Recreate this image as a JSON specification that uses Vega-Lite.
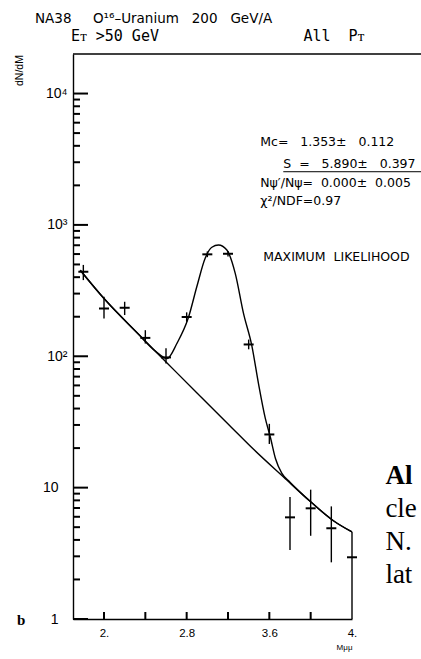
{
  "$schema": "https://vega.github.io/schema/vega-lite/v6.json",
  "width": 279,
  "height": 565,
  "autosize": {"type": "none"},
  "padding": {"left": 73, "top": 54, "right": 69, "bottom": 40},
  "background": "white",
  "config": {"view": {"stroke": null}, "font": "Liberation Sans"},
  "title": {
    "text": "NA38\u00a0\u00a0\u00a0\u00a0\u00a0O¹⁶–Uranium\u00a0\u00a0\u00a0200\u00a0\u00a0\u00a0GeV/A",
    "subtitle": "\u200b\u00a0\u00a0\u00a0\u00a0Eᴛ\u00a0>50\u00a0GeV\u00a0\u00a0\u00a0\u00a0\u00a0\u00a0\u00a0\u00a0\u00a0\u00a0\u00a0\u00a0\u00a0\u00a0\u00a0\u00a0All\u00a0\u00a0Pᴛ",
    "anchor": "start",
    "frame": "group",
    "dx": -38,
    "offset": 9,
    "font": "DejaVu Sans",
    "fontSize": 13.5,
    "fontWeight": "normal",
    "color": "black",
    "subtitleFont": "DejaVu Sans Mono",
    "subtitleFontSize": 15,
    "subtitleColor": "black",
    "subtitlePadding": 4
  },
  "datasets": {
    "points": [
      {"m": 1.8, "n": 440, "lo": 380, "hi": 496},
      {"m": 2.0, "n": 231, "lo": 194, "hi": 284},
      {"m": 2.2, "n": 234, "lo": 206, "hi": 260},
      {"m": 2.4, "n": 138, "lo": 125, "hi": 158},
      {"m": 2.6, "n": 98, "lo": 88, "hi": 115},
      {"m": 2.8, "n": 199, "lo": 183, "hi": 216},
      {"m": 3.0, "n": 597, "lo": 568, "hi": 628},
      {"m": 3.2, "n": 603, "lo": 574, "hi": 634},
      {"m": 3.4, "n": 123, "lo": 113, "hi": 134},
      {"m": 3.6, "n": 25.4, "lo": 21.5, "hi": 30.6},
      {"m": 3.8, "n": 5.94, "lo": 3.35, "hi": 8.5},
      {"m": 4.0, "n": 6.96, "lo": 4.3, "hi": 9.65},
      {"m": 4.2, "n": 4.9, "lo": 2.7, "hi": 7.2},
      {"m": 4.4, "n": 2.95, "lo": 1.0, "hi": 4.6}
    ],
    "background": [
      {"m": 1.77, "n": 452},
      {"m": 2.0, "n": 275},
      {"m": 2.32, "n": 151},
      {"m": 2.61, "n": 89},
      {"m": 2.9, "n": 52.5},
      {"m": 3.22, "n": 29.5},
      {"m": 3.45, "n": 19.5},
      {"m": 3.74, "n": 12.0},
      {"m": 4.0, "n": 7.8},
      {"m": 4.22, "n": 5.6},
      {"m": 4.4, "n": 4.6}
    ],
    "total": [
      {"m": 1.77, "n": 452},
      {"m": 2.0, "n": 275},
      {"m": 2.32, "n": 151},
      {"m": 2.5, "n": 109},
      {"m": 2.61, "n": 96},
      {"m": 2.705, "n": 125},
      {"m": 2.817, "n": 197},
      {"m": 2.898, "n": 338},
      {"m": 2.979, "n": 557},
      {"m": 3.044, "n": 676},
      {"m": 3.108, "n": 703},
      {"m": 3.189, "n": 644},
      {"m": 3.27, "n": 428},
      {"m": 3.35, "n": 212},
      {"m": 3.43, "n": 121},
      {"m": 3.495, "n": 62},
      {"m": 3.56, "n": 34},
      {"m": 3.61, "n": 24.2},
      {"m": 3.66, "n": 16.6},
      {"m": 3.72, "n": 12.9},
      {"m": 3.8, "n": 11.0},
      {"m": 4.0, "n": 7.8},
      {"m": 4.22, "n": 5.6},
      {"m": 4.4, "n": 4.6}
    ],
    "yMajor": [
      {"m": 1.7, "n": 1}, {"m": 1.7, "n": 10}, {"m": 1.7, "n": 100}, {"m": 1.7, "n": 1000}, {"m": 1.7, "n": 10000}
    ],
    "yMinor": [
      {"m": 1.7, "n": 2}, {"m": 1.7, "n": 3}, {"m": 1.7, "n": 4}, {"m": 1.7, "n": 5}, {"m": 1.7, "n": 6}, {"m": 1.7, "n": 7}, {"m": 1.7, "n": 8}, {"m": 1.7, "n": 9},
      {"m": 1.7, "n": 20}, {"m": 1.7, "n": 30}, {"m": 1.7, "n": 40}, {"m": 1.7, "n": 50}, {"m": 1.7, "n": 60}, {"m": 1.7, "n": 70}, {"m": 1.7, "n": 80}, {"m": 1.7, "n": 90},
      {"m": 1.7, "n": 200}, {"m": 1.7, "n": 300}, {"m": 1.7, "n": 400}, {"m": 1.7, "n": 500}, {"m": 1.7, "n": 600}, {"m": 1.7, "n": 700}, {"m": 1.7, "n": 800}, {"m": 1.7, "n": 900},
      {"m": 1.7, "n": 2000}, {"m": 1.7, "n": 3000}, {"m": 1.7, "n": 4000}, {"m": 1.7, "n": 5000}, {"m": 1.7, "n": 6000}, {"m": 1.7, "n": 7000}, {"m": 1.7, "n": 8000}, {"m": 1.7, "n": 9000}
    ],
    "xTicks": [
      {"m": 2.0, "n": 1}, {"m": 2.4, "n": 1}, {"m": 2.8, "n": 1}, {"m": 3.2, "n": 1}, {"m": 3.6, "n": 1}, {"m": 4.0, "n": 1}
    ],
    "notes": [
      {"label": "Mc=\u00a0\u00a0\u00a01.353±\u00a0\u00a0\u00a00.112", "m": 3.512, "n": 4305},
      {"label": "S\u00a0\u00a0=\u00a0\u00a0\u00a05.890±\u00a0\u00a0\u00a00.397", "m": 3.735, "n": 2924},
      {"label": "Nψ′/Nψ=\u00a0\u00a00.000±\u00a0\u00a00.005", "m": 3.512, "n": 2094},
      {"label": "χ²/NDF=0.97", "m": 3.512, "n": 1524},
      {"label": "MAXIMUM\u00a0\u00a0LIKELIHOOD", "m": 3.541, "n": 570}
    ],
    "underline": [
      {"m": 3.735, "m2": 5.07, "n": 2540}
    ],
    "frame": [
      {"m": 1.7, "m2": 5.07, "n": 20000}
    ],
    "paper": [
      {"label": "cle", "m": 4.723, "n": 5.97},
      {"label": "N.", "m": 4.723, "n": 3.34},
      {"label": "lat", "m": 4.723, "n": 1.87}
    ],
    "paperBold": [
      {"label": "Al", "m": 4.723, "n": 10.67}
    ],
    "panel": [
      {"label": "b", "m": 1.157, "n": 0.9}
    ]
  },
  "layer": [
    {
      "data": {"name": "background"},
      "mark": {"type": "line", "color": "black", "strokeWidth": 1.4, "interpolate": "monotone"},
      "encoding": {
        "x": {
          "field": "m", "type": "quantitative",
          "scale": {"domain": [1.7, 4.4], "nice": false, "zero": false},
          "axis": {
            "orient": "bottom",
            "values": [2.0, 2.8, 3.6, 4.4],
            "labelExpr": "datum.value == 2 ? '2.' : abs(datum.value - 2.8) < 0.001 ? '2.8' : abs(datum.value - 3.6) < 0.001 ? '3.6' : '4.'",
            "ticks": false,
            "tickSize": 0,
            "labelPadding": 8,
            "labelFontSize": 11.5,
            "labelColor": "black",
            "labelFlush": false,
            "domainColor": "black",
            "domainWidth": 1.4,
            "grid": false,
            "title": "Mμμ",
            "titleFontSize": 8,
            "titleFontWeight": "normal",
            "titleColor": "black",
            "titleAnchor": "end",
            "titlePadding": 5
          }
        },
        "y": {
          "field": "n", "type": "quantitative",
          "scale": {"type": "log", "domain": [1, 20000], "nice": false},
          "axis": {
            "orient": "left",
            "values": [1, 10, 100, 1000, 10000],
            "labelExpr": "datum.value == 10000 ? '10⁴' : datum.value == 1000 ? '10³' : datum.value == 100 ? '10²' : datum.value == 10 ? '10' : '1'",
            "ticks": false,
            "tickSize": 0,
            "labelPadding": {"condition": {"test": "datum.value >= 100", "value": 6}, "value": 15},
            "labelFontSize": 14,
            "labelColor": "black",
            "labelFlush": false,
            "domainColor": "black",
            "domainWidth": 1.4,
            "grid": false,
            "title": "dN/dM",
            "titleFontSize": 10.5,
            "titleFontWeight": "normal",
            "titleColor": "black",
            "titleX": -54,
            "titleY": 16,
            "titleAlign": "center",
            "titleBaseline": "middle",
            "titleAngle": -90
          }
        }
      }
    },
    {
      "data": {"name": "total"},
      "mark": {"type": "line", "color": "black", "strokeWidth": 1.4, "interpolate": "monotone"},
      "encoding": {
        "x": {"field": "m", "type": "quantitative"},
        "y": {"field": "n", "type": "quantitative"}
      }
    },
    {
      "data": {"name": "yMajor"},
      "mark": {"type": "tick", "orient": "horizontal", "color": "black", "size": 15, "thickness": 2, "xOffset": 7.5, "opacity": 1},
      "encoding": {
        "x": {"field": "m", "type": "quantitative"},
        "y": {"field": "n", "type": "quantitative"}
      }
    },
    {
      "data": {"name": "yMinor"},
      "mark": {"type": "tick", "orient": "horizontal", "color": "black", "size": 7, "thickness": 2, "xOffset": 3.5, "opacity": 1},
      "encoding": {
        "x": {"field": "m", "type": "quantitative"},
        "y": {"field": "n", "type": "quantitative"}
      }
    },
    {
      "data": {"name": "xTicks"},
      "mark": {"type": "tick", "orient": "vertical", "color": "black", "size": 7, "thickness": 2, "yOffset": -3.5, "opacity": 1},
      "encoding": {
        "x": {"field": "m", "type": "quantitative"},
        "y": {"field": "n", "type": "quantitative"}
      }
    },
    {
      "data": {"name": "points"},
      "mark": {"type": "rule", "color": "black", "strokeWidth": 1.4},
      "encoding": {
        "x": {"field": "m", "type": "quantitative"},
        "y": {"field": "lo", "type": "quantitative"},
        "y2": {"field": "hi"}
      }
    },
    {
      "data": {"name": "points"},
      "mark": {"type": "tick", "orient": "horizontal", "color": "black", "size": 10, "thickness": 2, "opacity": 1},
      "encoding": {
        "x": {"field": "m", "type": "quantitative"},
        "y": {"field": "n", "type": "quantitative"}
      }
    },
    {
      "data": {"name": "frame"},
      "mark": {"type": "rule", "color": "black", "strokeWidth": 1.4},
      "encoding": {
        "x": {"field": "m", "type": "quantitative"},
        "x2": {"field": "m2"},
        "y": {"field": "n", "type": "quantitative"}
      }
    },
    {
      "data": {"name": "underline"},
      "mark": {"type": "rule", "color": "black", "strokeWidth": 1},
      "encoding": {
        "x": {"field": "m", "type": "quantitative"},
        "x2": {"field": "m2"},
        "y": {"field": "n", "type": "quantitative"}
      }
    },
    {
      "data": {"name": "notes"},
      "mark": {"type": "text", "align": "left", "baseline": "middle", "font": "DejaVu Sans", "fontSize": 12.5, "color": "black"},
      "encoding": {
        "x": {"field": "m", "type": "quantitative"},
        "y": {"field": "n", "type": "quantitative"},
        "text": {"field": "label"}
      }
    },
    {
      "data": {"name": "paper"},
      "mark": {"type": "text", "align": "left", "baseline": "alphabetic", "font": "Liberation Serif", "fontSize": 27, "color": "black"},
      "encoding": {
        "x": {"field": "m", "type": "quantitative"},
        "y": {"field": "n", "type": "quantitative"},
        "text": {"field": "label"}
      }
    },
    {
      "data": {"name": "paperBold"},
      "mark": {"type": "text", "align": "left", "baseline": "alphabetic", "font": "Liberation Serif", "fontSize": 27, "fontWeight": "bold", "color": "black"},
      "encoding": {
        "x": {"field": "m", "type": "quantitative"},
        "y": {"field": "n", "type": "quantitative"},
        "text": {"field": "label"}
      }
    },
    {
      "data": {"name": "panel"},
      "mark": {"type": "text", "align": "left", "baseline": "alphabetic", "font": "Liberation Serif", "fontSize": 15, "fontWeight": "bold", "color": "black"},
      "encoding": {
        "x": {"field": "m", "type": "quantitative"},
        "y": {"field": "n", "type": "quantitative"},
        "text": {"field": "label"}
      }
    }
  ]
}
